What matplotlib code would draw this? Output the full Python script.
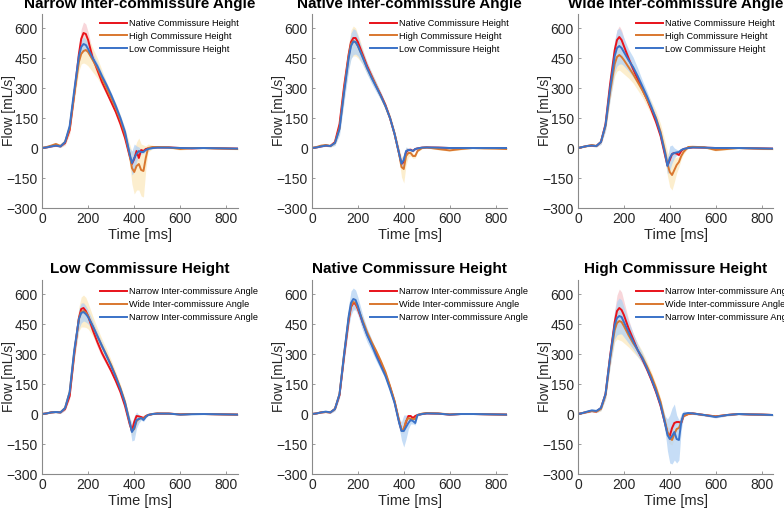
import numpy as np
import matplotlib
matplotlib.use("Agg")
import matplotlib.pyplot as plt

plt.rcParams['font.family'] = ['Liberation Sans', 'DejaVu Sans']

T = [0, 20, 40, 60, 80, 100, 120, 140, 160, 170, 180, 190, 200, 220, 240, 260, 280, 300, 320, 340,
     360, 380, 390, 400, 410, 420, 430, 440, 450, 460, 480, 500, 550, 600, 650, 700, 750, 800, 850]

titles = ["Narrow Inter-commissure Angle", "Native Inter-commissure Angle", "Wide Inter-commissure Angle",
          "Low Commissure Height", "Native Commissure Height", "High Commissure Height"]
legend_top = ["Native Commissure Height", "High Commissure Height", "Low Commissure Height"]
legend_bottom = ["Narrow Inter-commissure Angle", "Wide Inter-commissure Angle", "Narrow Inter-commissure Angle"]

# Panel 1: Narrow Inter-commissure Angle
p1_red = [0,3,8,12,8,25,90,270,470,545,575,570,540,450,390,330,280,230,180,120,50,-40,-80,-55,-15,-50,-10,-15,-5,-2,2,3,3,0,-2,0,-1,-2,-3]
p1_orange = [0,5,12,20,10,30,100,270,430,470,485,490,480,440,400,350,300,250,200,140,70,-30,-100,-120,-90,-80,-110,-115,-50,0,5,5,3,-5,0,0,-2,-3,-5]
p1_blue = [0,3,8,12,8,30,110,290,460,505,520,515,495,450,410,360,315,265,210,150,80,-30,-75,-50,-30,-15,-20,-20,-10,-5,0,2,2,0,-1,0,-1,-2,-3]
p1_red_sd = [3,3,3,4,5,10,20,30,40,50,55,50,40,30,25,20,15,12,12,12,15,20,30,40,35,20,10,8,5,5,4,3,3,3,3,3,3,3,3]
p1_orange_sd = [3,4,6,8,8,15,25,35,45,50,60,70,70,60,50,40,30,25,25,25,30,50,80,110,120,130,130,130,60,20,8,5,5,5,5,4,4,4,4]
p1_blue_sd = [3,3,3,4,5,10,20,30,35,35,35,30,25,20,18,15,12,12,12,12,15,30,60,70,40,20,10,8,6,5,4,3,3,3,3,3,3,3,3]

# Panel 2: Native Inter-commissure Angle
p2_red = [0,3,8,12,10,30,120,310,470,530,550,550,530,470,410,360,310,265,215,150,70,-30,-80,-70,-20,-10,-8,-15,-5,-2,2,3,2,0,0,0,0,0,0]
p2_orange = [0,5,12,15,10,25,100,290,460,520,535,530,510,460,400,355,310,260,210,150,70,-30,-95,-105,-40,-25,-25,-40,-40,-15,0,3,-5,-12,-5,0,-2,-3,-5]
p2_blue = [0,3,8,12,10,25,95,280,450,510,532,530,510,455,400,350,305,260,210,150,70,-30,-78,-60,-15,-10,-10,-15,-5,-2,2,3,2,0,0,0,0,0,0]
p2_red_sd = [2,2,2,3,4,8,15,20,25,25,25,25,20,15,12,10,8,8,8,8,10,15,15,15,10,8,5,5,3,3,2,2,2,2,2,2,2,2,2]
p2_orange_sd = [3,4,5,6,6,10,20,40,60,70,75,70,60,40,30,25,20,18,18,18,20,30,50,70,45,20,15,12,10,6,4,4,4,4,4,3,3,3,3]
p2_blue_sd = [2,3,3,4,5,12,30,50,60,65,65,60,50,35,30,28,25,20,15,12,15,20,25,30,20,10,6,5,4,3,3,3,3,3,3,3,3,3,3]

# Panel 3: Wide Inter-commissure Angle
p3_red = [0,5,10,12,10,30,120,320,490,540,555,540,510,450,395,345,295,245,190,130,60,-40,-88,-60,-30,-25,-28,-35,-15,-5,0,3,2,0,0,0,-1,-2,-3]
p3_orange = [0,5,10,15,10,30,110,280,420,455,465,455,440,405,370,330,290,245,200,150,80,-20,-80,-120,-135,-110,-85,-70,-40,-20,5,6,4,-10,-5,0,-2,-4,-5]
p3_blue = [0,5,10,12,10,30,115,300,460,500,510,500,480,440,405,360,310,260,205,145,70,-30,-90,-50,-30,-25,-22,-20,-10,-5,0,3,2,0,0,0,-1,-2,-3]
p3_red_sd = [3,3,3,4,5,10,20,30,40,50,55,50,40,25,20,15,12,10,10,10,12,15,20,20,15,10,8,6,4,3,3,3,3,3,3,3,3,3,3]
p3_orange_sd = [3,3,4,5,5,10,20,40,60,70,75,75,70,55,45,40,35,35,35,35,40,50,60,75,75,60,40,25,15,10,6,5,5,5,4,4,4,4,4]
p3_blue_sd = [3,3,3,4,5,12,30,60,80,90,90,80,70,55,50,40,30,25,20,18,20,25,40,60,45,25,15,10,6,4,3,3,3,3,3,3,3,3,3]

# Panel 4: Low Commissure Height
p4_red = [0,3,8,10,8,25,90,300,480,525,530,515,490,420,360,305,260,215,165,110,40,-50,-85,-40,-10,-12,-15,-20,-10,-5,0,2,2,-2,0,0,-1,-2,-3]
p4_orange = [0,3,8,10,8,30,110,310,475,510,515,508,490,440,390,340,295,245,190,130,60,-40,-85,-75,-35,-25,-20,-25,-12,-5,0,3,2,-2,0,0,-1,-2,-3]
p4_blue = [0,3,8,10,8,30,110,320,475,505,510,500,485,440,390,340,290,240,185,125,55,-40,-90,-70,-30,-25,-20,-30,-15,-5,0,2,2,-3,-1,0,-1,-2,-3]
p4_red_sd = [2,2,2,3,4,8,15,25,30,30,30,30,25,25,25,20,15,12,10,10,12,15,20,15,10,8,5,5,3,3,2,2,2,2,2,2,2,2,2]
p4_orange_sd = [2,3,3,4,5,10,20,40,60,75,80,75,65,50,40,35,30,25,20,18,18,20,25,25,15,10,6,5,4,3,3,3,3,3,3,3,3,3,3]
p4_blue_sd = [2,3,3,4,5,10,20,40,50,50,45,40,35,25,20,18,15,12,10,10,12,25,45,60,40,20,10,8,5,3,3,3,3,3,3,3,3,3,3]

# Panel 5: Native Commissure Height
p5_red = [0,3,8,10,8,25,95,290,470,535,555,550,525,460,400,350,305,255,200,135,60,-40,-80,-80,-40,-10,-10,-20,-10,-5,0,3,2,-3,0,0,-1,-2,-3]
p5_orange = [0,3,8,10,8,25,100,300,480,540,560,555,530,470,410,360,315,265,210,140,65,-35,-80,-75,-35,-20,-25,-25,-25,-5,2,5,3,-2,0,0,-1,-2,-3]
p5_blue = [0,3,8,12,8,25,100,300,490,555,575,570,540,460,395,345,290,240,190,125,55,-45,-85,-85,-65,-45,-30,-35,-45,-5,0,3,2,-3,0,0,-1,-2,-3]
p5_red_sd = [2,2,2,3,4,6,12,20,25,25,25,25,20,15,12,10,8,8,8,8,10,12,15,15,12,8,6,5,4,3,2,2,2,2,2,2,2,2,2]
p5_orange_sd = [2,2,2,3,4,6,12,20,25,25,25,25,20,15,12,10,8,8,8,8,10,12,15,15,12,8,6,5,4,3,2,2,2,2,2,2,2,2,2]
p5_blue_sd = [2,3,3,4,5,10,20,40,55,60,55,50,45,40,35,30,25,20,15,12,15,25,45,80,60,30,20,15,10,5,3,3,3,3,3,3,3,3,3]

# Panel 6: High Commissure Height
p6_red = [0,5,10,15,12,30,100,290,460,515,530,520,495,430,375,320,275,225,170,110,40,-50,-95,-110,-70,-45,-40,-40,-45,-10,0,3,-5,-12,-5,0,-2,-3,-5]
p6_orange = [0,5,10,15,12,25,95,275,420,455,465,460,440,395,355,320,285,240,190,130,60,-40,-90,-120,-130,-100,-75,-70,-40,-10,0,3,-5,-12,-5,0,-2,-3,-5]
p6_blue = [0,5,12,18,15,30,100,285,445,480,490,485,460,410,365,320,280,230,175,115,45,-50,-105,-125,-110,-90,-125,-130,-40,0,5,3,-5,-15,-5,0,-2,-3,-5]
p6_red_sd = [3,3,3,4,5,10,20,40,60,80,95,90,70,45,30,25,20,15,12,12,15,20,30,40,30,15,10,8,5,4,4,3,3,3,3,3,3,3,3]
p6_orange_sd = [3,3,4,5,5,10,20,40,60,80,95,95,85,60,45,35,30,25,20,20,20,25,30,30,25,20,15,10,8,5,4,4,4,4,4,4,4,4,4]
p6_blue_sd = [3,4,6,8,8,12,25,50,70,85,90,85,75,55,40,30,25,20,18,18,20,40,80,120,140,140,120,100,40,15,6,5,5,5,5,4,4,4,4]

panels = [
    (p1_red, p1_orange, p1_blue, p1_red_sd, p1_orange_sd, p1_blue_sd),
    (p2_red, p2_orange, p2_blue, p2_red_sd, p2_orange_sd, p2_blue_sd),
    (p3_red, p3_orange, p3_blue, p3_red_sd, p3_orange_sd, p3_blue_sd),
    (p4_red, p4_orange, p4_blue, p4_red_sd, p4_orange_sd, p4_blue_sd),
    (p5_red, p5_orange, p5_blue, p5_red_sd, p5_orange_sd, p5_blue_sd),
    (p6_red, p6_orange, p6_blue, p6_red_sd, p6_orange_sd, p6_blue_sd),
]

line_colors = ['#E8121A', '#D9772F', '#3A72C8']
band_colors = ['#F6C9CE', '#FCE9BE', '#B3D2F4']

W, H = 784, 508
fig = plt.figure(figsize=(W / 100, H / 100), dpi=100)

lefts = [42, 312, 578]
widths = [196, 195, 195]
bottoms_px = [208, 474]   # pixel y of -300
ylim = (-300, 670)
ax_h = 194

t = np.array(T)
for i, (title, data) in enumerate(zip(titles, panels)):
    row, col = divmod(i, 3)
    l = lefts[col] / W
    b = (H - bottoms_px[row]) / H
    ax = fig.add_axes([l, b, widths[col] / W, ax_h / H])
    means = data[:3]
    sds = data[3:]
    for m, s, bc in zip(means, sds, band_colors):
        m = np.array(m, float); s = np.array(s, float)
        ax.fill_between(t, m - s, m + s, color=bc, alpha=0.75, lw=0)
    labels = legend_top if row == 0 else legend_bottom
    for m, lc, lab in zip(means, line_colors, labels):
        ax.plot(t, m, color=lc, lw=1.4, label=lab)
    ax.set_xlim(0, 850)
    ax.set_ylim(*ylim)
    ax.set_xticks([0, 200, 400, 600, 800])
    ax.set_yticks([-300, -150, 0, 150, 300, 450, 600])
    for sp in ['top', 'right']:
        ax.spines[sp].set_visible(False)
    for sp in ['left', 'bottom']:
        ax.spines[sp].set_color('#8a8a8a')
        ax.spines[sp].set_linewidth(0.8)
    ax.tick_params(direction='in', length=2.5, width=0.6, color='#8a8a8a',
                   labelsize=10, labelcolor='#262626', pad=3)
    ax.set_xlabel('Time [ms]', fontsize=10.5, color='#262626', labelpad=1)
    ax.set_ylabel('Flow [mL/s]', fontsize=10, color='#262626', va='center')
    ax.yaxis.set_label_coords(-33.5 / widths[col], 0.5)
    ax.set_title(title, fontsize=11, fontweight='bold', pad=4 if row == 0 else 5)
    ax.legend(loc='upper left', frameon=False, fontsize=6.6, handlelength=2.9,
              handletextpad=0.3, labelspacing=0.42, borderaxespad=0, borderpad=0,
              bbox_to_anchor=(58 / widths[col], 0.975 if row == 0 else 0.962))

fig.savefig('out.png', dpi=100)
